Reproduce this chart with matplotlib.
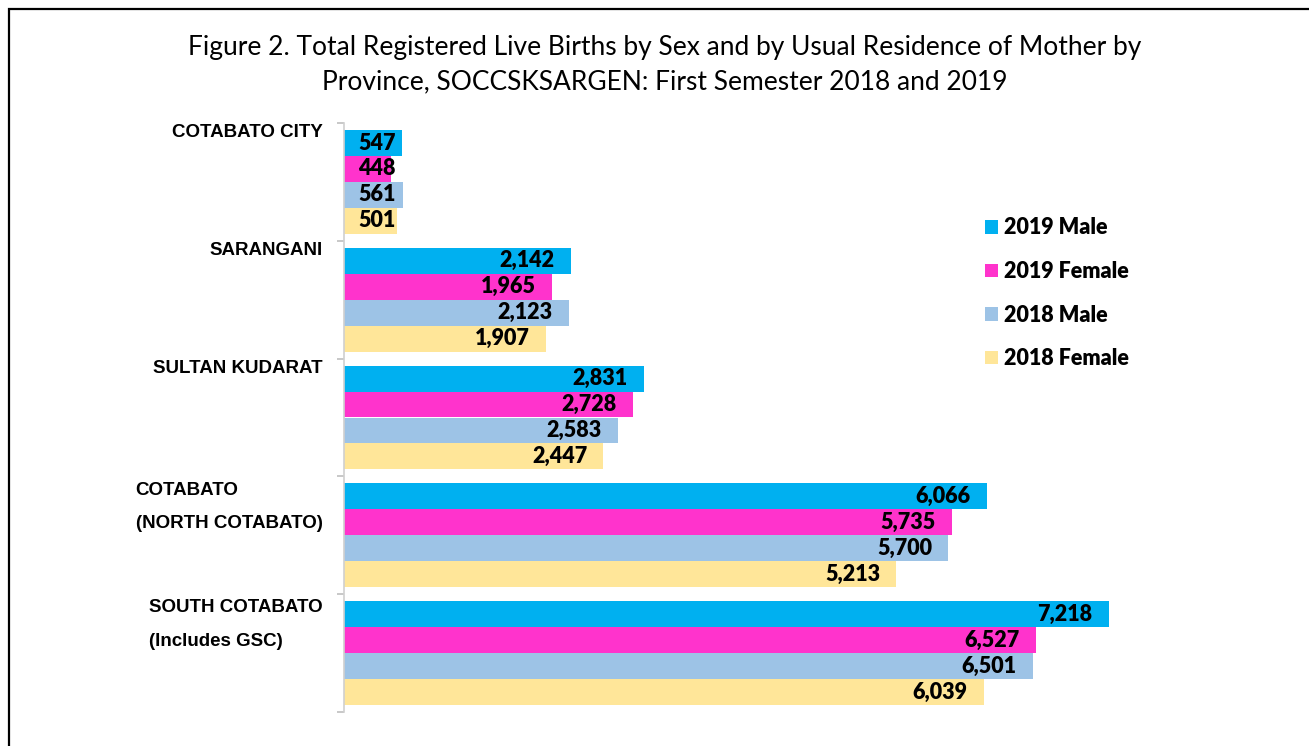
import numpy as np
import matplotlib.pyplot as plt
from matplotlib.patches import Rectangle

provinces = ["COTABATO CITY", "SARANGANI", "SULTAN KUDARAT",
             "COTABATO\n(NORTH COTABATO)", "SOUTH COTABATO\n(Includes GSC)"]
series_names = ["2019 Male", "2019 Female", "2018 Male", "2018 Female"]
male_2019 = [547, 2142, 2831, 6066, 7218]
female_2019 = [448, 1965, 2728, 5735, 6527]
male_2018 = [561, 2123, 2583, 5700, 6501]
female_2018 = [501, 1907, 2447, 5213, 6039]

colors = ["#00B0F0", "#FF33CC", "#9DC3E6", "#FFE699"]
series = [male_2019, female_2019, male_2018, female_2018]

fig = plt.figure(figsize=(13.09, 7.46), dpi=100)
ax = fig.add_axes([344/1309, 1-712/746, 784/1309, (712-123)/746])

ypos = np.arange(len(provinces))
bh = 0.22
lab_font = dict(fontsize=15.5, fontweight="heavy", family="Lato")
for i, vals in enumerate(series):
    y = ypos - 1.5*bh + i*bh
    ax.barh(y, vals, height=bh, color=colors[i], label=series_names[i])
    for yy, v in zip(y, vals):
        if v < 600:
            # too short for inside-end, Excel pushes it from the base
            ax.annotate("{:,d}".format(v), xy=(0, yy), xytext=(10, 0), textcoords="offset points",
                        ha="left", va="center", **lab_font)
        else:
            ax.annotate("{:,d}".format(v), xy=(v, yy), xytext=(-11.5, 0), textcoords="offset points",
                        ha="right", va="center", **lab_font)

ax.set_xlim(0, 7400)
ax.set_ylim(len(provinces)-0.5, -0.5)

# category labels sit at the top of each group
for yy, name in zip(ypos, provinces):
    n = name.count("\n")
    ax.annotate(name, xy=(0, yy - 0.42 + 0.18*n), xytext=(-15.5, 0), textcoords="offset points",
                ha="right", va="center", multialignment="left", linespacing=2.3,
                fontsize=13.5, fontweight="bold", family="Liberation Sans")

ax.set_yticks(np.arange(len(provinces)+1)-0.5)
ax.set_yticklabels([])
ax.tick_params(axis="y", length=5, color="#bfbfbf", width=1.2)
ax.set_xticks([])
for s in ["top", "right", "bottom"]:
    ax.spines[s].set_visible(False)
ax.spines["left"].set_color("#d0d0d0")
ax.spines["left"].set_linewidth(1.2)

handles, labels = ax.get_legend_handles_labels()
fig.legend(handles, labels, loc="upper left", bbox_to_anchor=(966/1309, 1-198/746),
           frameon=False, handlelength=0.6, handleheight=0.6, handletextpad=0.25,
           labelspacing=1.05, prop={"family": "Lato", "weight": "heavy", "size": 15.5})

fig.text(0.508, 1-47/746, "Figure 2. Total Registered Live Births by Sex and by Usual Residence of Mother by",
         ha="center", va="center", fontsize=19, family="Lato")
fig.text(0.508, 1-82/746, "Province, SOCCSKSARGEN: First Semester 2018 and 2019",
         ha="center", va="center", fontsize=19, family="Lato")

fig.add_artist(Rectangle((8.5/1309, -0.5), 2, 1.5 - 8.5/746, transform=fig.transFigure,
                         fill=False, edgecolor="black", linewidth=1.6))

fig.savefig("out.png", dpi=100)
